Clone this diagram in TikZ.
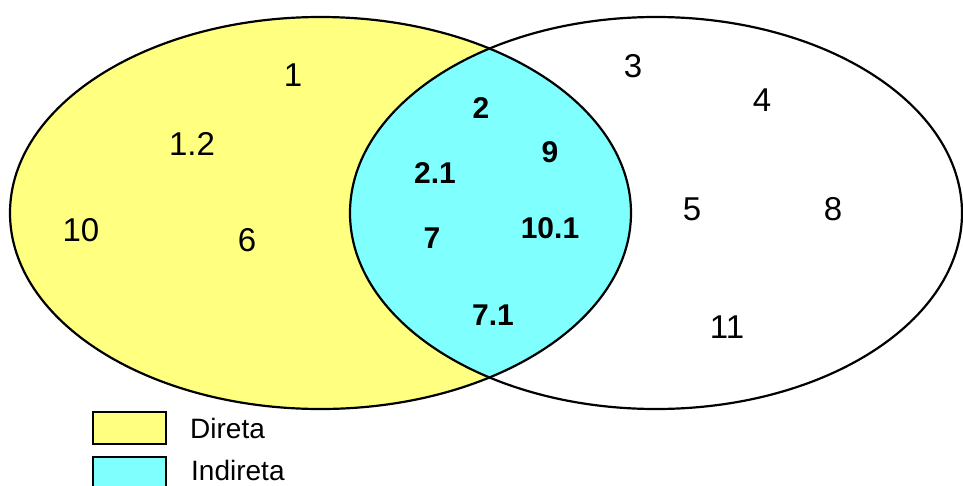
\documentclass[tikz,border=0pt]{standalone}
\usepackage{fontspec}
\setmainfont{Liberation Sans}
\definecolor{dyellow}{RGB}{255,255,128}
\definecolor{icyan}{RGB}{128,255,255}
\begin{document}
\begin{tikzpicture}[x=1pt,y=-1pt,
  num/.style={inner sep=0pt,font=\fontsize{33}{37}\selectfont},
  bnum/.style={inner sep=0pt,font=\fontsize{30}{35}\selectfont\bfseries},
  legtext/.style={inner sep=0pt,anchor=west,font=\fontsize{28}{32}\selectfont},
  outline/.style={draw=black,line width=2.2pt},
  legbox/.style={draw=black,line width=1.6pt}]
\clip (0,0) rectangle (963,485);
\fill[white] (0,0) rectangle (963,485);
% sets
\fill[dyellow] (320.5,213) ellipse [x radius=310.5, y radius=196];
\begin{scope}
  \clip (320.5,213) ellipse [x radius=310.5, y radius=196];
  \fill[icyan] (656,213) ellipse [x radius=306, y radius=196];
\end{scope}
\draw[outline] (320.5,213) ellipse [x radius=310.5, y radius=196];
\draw[outline] (656,213) ellipse [x radius=306, y radius=196];
% labels
\node[num] (n1) at (293,75) {1};
\node[num] (n12) at (192,144) {1.2};
\node[num] (n10) at (81,230) {10};
\node[num] (n6) at (247,240) {6};
\node[bnum] (n2) at (481,108) {2};
\node[bnum] (n21) at (435,173) {2.1};
\node[bnum] (n9) at (550,152) {9};
\node[bnum] (n7) at (432,238) {7};
\node[bnum] (n101) at (550,228) {10.1};
\node[bnum] (n71) at (493,315) {7.1};
\node[num] (n3) at (633,66) {3};
\node[num] (n4) at (762,100) {4};
\node[num] (n5) at (692,209) {5};
\node[num] (n8) at (833,209) {8};
\node[num] (n11) at (727,327) {11};
% legend
\filldraw[legbox,fill=dyellow] (93,412) rectangle (166,444);
\filldraw[legbox,fill=icyan] (93,457) rectangle (166,495);
\node[legtext] (ld) at (190,428) {Direta};
\node[legtext] (li) at (191,470) {Indireta};
\end{tikzpicture}
\end{document}
